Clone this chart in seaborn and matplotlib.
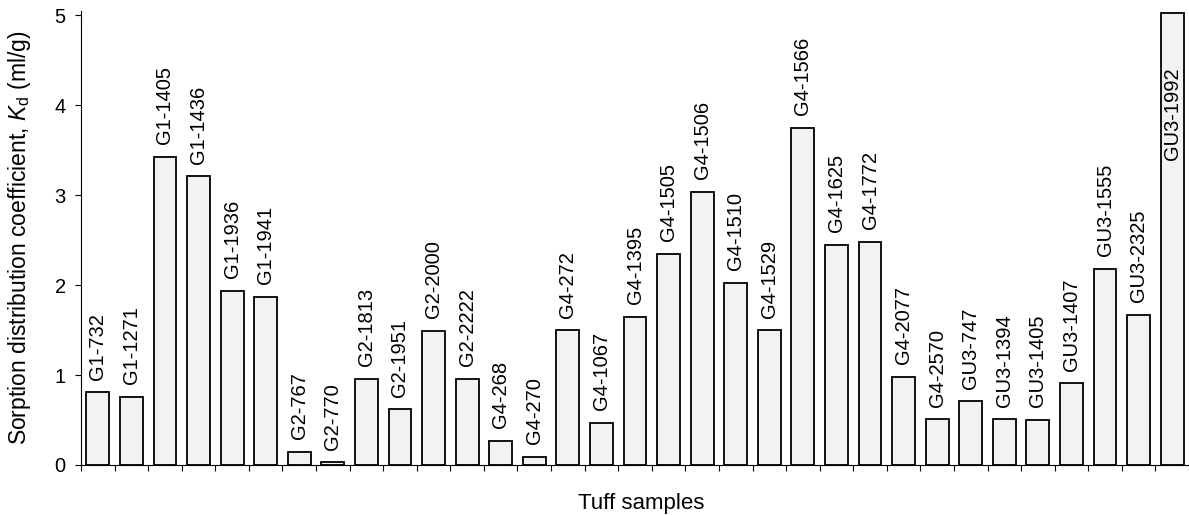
import numpy as np
import pandas as pd
import matplotlib
matplotlib.use("Agg")
import matplotlib.pyplot as plt
import seaborn as sns

samples = ['G1-732', 'G1-1271', 'G1-1405', 'G1-1436', 'G1-1936', 'G1-1941',
           'G2-767', 'G2-770', 'G2-1813', 'G2-1951', 'G2-2000', 'G2-2222',
           'G4-268', 'G4-270', 'G4-272', 'G4-1067', 'G4-1395', 'G4-1505',
           'G4-1506', 'G4-1510', 'G4-1529', 'G4-1566', 'G4-1625', 'G4-1772',
           'G4-2077', 'G4-2570', 'GU3-747', 'GU3-1394', 'GU3-1405', 'GU3-1407',
           'GU3-1555', 'GU3-2325', 'GU3-1992']
kd = [0.81, 0.76, 3.43, 3.21, 1.94, 1.87,
      0.15, 0.03, 0.96, 0.62, 1.49, 0.96,
      0.27, 0.09, 1.50, 0.47, 1.65, 2.35,
      3.04, 2.03, 1.50, 3.75, 2.45, 2.48,
      0.98, 0.51, 0.71, 0.51, 0.50, 0.91,
      2.18, 1.67, 5.03]
y_ticks = [0, 1, 2, 3, 4, 5]

df = pd.DataFrame({'sample': samples, 'kd': kd})

sns.set_style('ticks', {'text.color': 'black', 'axes.labelcolor': 'black',
                        'axes.edgecolor': 'black', 'xtick.color': 'black',
                        'ytick.color': 'black'})
plt.rcParams['font.family'] = ['Liberation Sans', 'DejaVu Sans']
plt.rcParams['mathtext.fontset'] = 'custom'
plt.rcParams['mathtext.rm'] = 'Liberation Sans'
plt.rcParams['mathtext.it'] = 'Liberation Sans:italic'

fig = plt.figure(figsize=(11.89, 5.15), dpi=100)
W, H = 1189, 515
ax = fig.add_axes([81 / W, 1 - 465 / H, (1189 - 81) / W, (465 - 11) / H])

sns.barplot(data=df, x='sample', y='kd', order=samples, color='#f2f2f2',
            edgecolor='black', linewidth=1.3, width=0.68, saturation=1, ax=ax)

# sample names written above the bars (inside the bar when it runs off the top)
for i, (s, v) in enumerate(zip(samples, kd)):
    if v > 4.5:
        ax.text(i, 4.42, s, rotation=90, ha='center', va='top', fontsize=14.5)
    else:
        ax.text(i, v + 0.14, s, rotation=90, ha='center', va='bottom', fontsize=14.5)

ax.set_xlim(-0.5, 32.38)
ax.set_ylim(0, 5.05)
ax.set_yticks(y_ticks)
ax.set_yticklabels([str(t) for t in y_ticks], fontsize=14.5)
ax.set_xticks(np.arange(len(samples) + 1) - 0.5)
ax.set_xticklabels([])
ax.tick_params(axis='x', length=4, width=0.8)
ax.tick_params(axis='y', length=4, width=0.8, pad=7)
for sp in ['left', 'bottom']:
    ax.spines[sp].set_linewidth(0.8)
sns.despine(ax=ax)

ax.set_xlabel('Tuff samples', fontsize=16)
ax.xaxis.set_label_coords(0.506, -0.062)
ax.set_ylabel(r'Sorption distribution coefficient, $K_\mathrm{d}$ (ml/g)',
              fontsize=16.5)
ax.yaxis.set_label_coords(-0.043, 0.5)

fig.savefig('out.png', dpi=100)
